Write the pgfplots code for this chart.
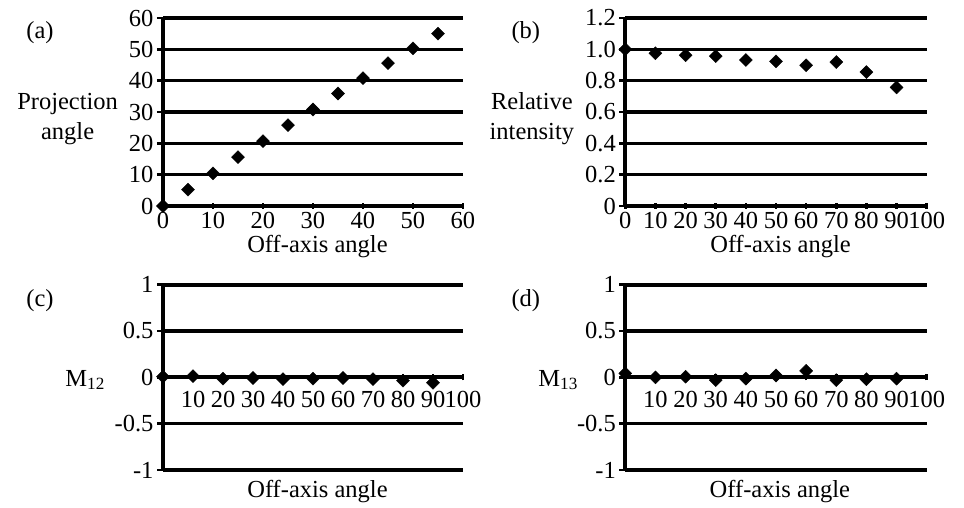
\documentclass[border=0pt]{standalone}
\usepackage{fontspec}
\setmainfont{Liberation Serif}
\usepackage{pgfplots}
\pgfplotsset{compat=1.18}

\pgfplotsset{
  panel/.style={
    scale only axis,
    width=300bp, height=188bp,
    axis y line=left,
    ymajorgrids,
    grid style={line width=3.6bp, black},
    major grid style={line width=3.6bp, black},
    tick style={line width=2.6bp, black},
    major tick length=6bp,
    tick align=outside,
    clip=false,
    /pgf/number format/assume math mode=true,
    font=\fontsize{24.5bp}{30bp}\selectfont,
    every axis x label/.style={at={(rel axis cs:0.515,-0.213)}, anchor=center},
    every axis y label/.style={at={(rel axis cs:-0.318,0.463)}, anchor=center, align=center},
  },
  nolinearrows/.style={axis line style={-, line width=4bp, black}},
  pts/.style={black, only marks, mark=square*, mark size=4.6bp, mark options={rotate=45, fill=black}},
}

\begin{document}
\begin{tikzpicture}[font=\fontsize{24.5bp}{30bp}\selectfont]
\useasboundingbox (0,0) rectangle (964bp,508bp);

% (a) projection angle
\begin{axis}[panel, at={(163bp,302bp)}, anchor=south west,
    axis x line=bottom, nolinearrows,
    xmin=0, xmax=60, ymin=0, ymax=60,
    xtick={0,10,...,60}, xticklabels={0,10,20,30,40,50,60},
    ytick={0,10,...,60}, yticklabels={0,10,20,30,40,50,60},
    xlabel={Off-axis angle}, ylabel={Projection\\angle}]
\addplot[pts] coordinates {
  (0,0) (5,5.2) (10,10.4) (15,15.6) (20,20.7) (25,25.8)
  (30,30.8) (35,35.9) (40,40.8) (45,45.6) (50,50.3) (55,55.0)
};
\node at (rel axis cs:-0.41,0.92) {(a)};
\end{axis}

% (b) relative intensity
\begin{axis}[panel, at={(625.3bp,302bp)}, anchor=south west, width=301.4bp,
    axis x line=bottom, nolinearrows,
    xmin=0, xmax=100, ymin=0, ymax=1.2,
    xtick={0,10,...,100}, xticklabels={0,10,20,30,40,50,60,70,80,90,100},
    ytick={0,0.2,0.4,0.6,0.8,1.0,1.2}, yticklabels={0,0.2,0.4,0.6,0.8,1.0,1.2},
    xlabel={Off-axis angle}, ylabel={Relative\\intensity},
    every axis y label/.style={at={(rel axis cs:-0.31,0.463)}, anchor=center, align=center}]
\addplot[pts] coordinates {
  (0,1.0) (10,0.975) (20,0.962) (30,0.957) (40,0.932)
  (50,0.923) (60,0.898) (70,0.919) (80,0.855) (90,0.757)
};
\node at (rel axis cs:-0.33,0.92) {(b)};
\end{axis}

% (c) M12
\begin{axis}[panel, at={(163bp,38bp)}, anchor=south west, height=185.3bp,
    axis x line=middle, nolinearrows,
    hide obscured x ticks=false, hide obscured y ticks=false,
    xmin=0, xmax=100, ymin=-1, ymax=1,
    xtick={10,20,...,100}, xticklabels={10,20,30,40,50,60,70,80,90,100},
    xticklabel style={yshift=-7bp},
    ytick={-1,-0.5,0,0.5,1}, yticklabels={-1,-0.5,0,0.5,1},
    xlabel={Off-axis angle},
    every axis x label/.style={at={(rel axis cs:0.515,-0.116)}, anchor=center}]
\addplot[pts] coordinates {
  (0,0.007) (10,0.014) (20,-0.014) (30,-0.007) (40,-0.02)
  (50,-0.014) (60,-0.007) (70,-0.02) (80,-0.036) (90,-0.058)
};
\node at (rel axis cs:-0.41,0.912) {(c)};
\node[anchor=base west] at (rel axis cs:-0.337,0.453) {M\textsubscript{12}};
\end{axis}

% (d) M13
\begin{axis}[panel, at={(625.3bp,38bp)}, anchor=south west, width=301.4bp, height=185.3bp,
    axis x line=middle, nolinearrows,
    hide obscured x ticks=false, hide obscured y ticks=false,
    xmin=0, xmax=100, ymin=-1, ymax=1,
    xtick={10,20,...,100}, xticklabels={10,20,30,40,50,60,70,80,90,100},
    xticklabel style={yshift=-7bp},
    ytick={-1,-0.5,0,0.5,1}, yticklabels={-1,-0.5,0,0.5,1},
    xlabel={Off-axis angle},
    every axis x label/.style={at={(rel axis cs:0.513,-0.116)}, anchor=center}]
\addplot[pts] coordinates {
  (0,0.043) (10,0) (20,0.007) (30,-0.03) (40,-0.014)
  (50,0.02) (60,0.07) (70,-0.03) (80,-0.02) (90,-0.014)
};
\node at (rel axis cs:-0.33,0.912) {(d)};
\node[anchor=base west] at (rel axis cs:-0.30,0.453) {M\textsubscript{13}};
\end{axis}
\end{tikzpicture}
\end{document}
